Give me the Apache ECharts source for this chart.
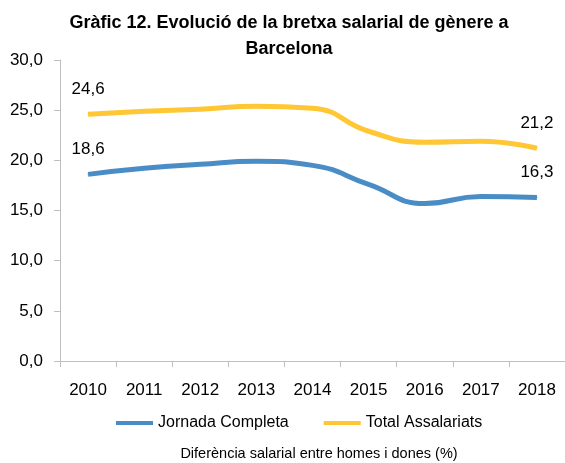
<!DOCTYPE html>
<html>
<head>
<meta charset="utf-8">
<script src="https://cdn.jsdelivr.net/npm/echarts@6/dist/echarts.min.js"></script>
<style>
  html, body { margin: 0; padding: 0; background: #fff; }
  #chart { width: 565px; height: 463px; }
</style>
</head>
<body>
<div id="chart"></div>
<script>
  // anys i valors llegits del gràfic
  let years = ['2010', '2011', '2012', '2013', '2014', '2015', '2016', '2017', '2018'];
  let jornadaCompleta = [18.6, 19.2, 19.6, 19.9, 19.5, 17.6, 15.7, 16.4, 16.3];
  let totalAssalariats = [24.6, 24.9, 25.1, 25.4, 25.2, 22.9, 21.8, 21.9, 21.2];
  let yTicks = [0, 5, 10, 15, 20, 25, 30];

  let font = '"Liberation Sans Narrow", "Arial Narrow", "Liberation Sans", Arial, sans-serif';

  function fmt(v) {
    return Number(v).toFixed(1).replace('.', ',');
  }

  // etiqueta només al primer i l'últim punt (sense símbol, la línia no dibuixa etiquetes)
  function withEndLabels(values) {
    return values.map(function(v, i) {
      let ends = i === 0 || i === values.length - 1;
      if (!ends) {
        return { value: v, symbol: 'none', label: { show: false } };
      }
      return { value: v, symbol: 'circle', symbolSize: 1, label: { show: true } };
    });
  }

  let myChart = echarts.init(document.getElementById('chart'));

  let option = {
    animation: false,
    title: [{
      text: 'Gràfic 12. Evolució de la bretxa salarial de gènere a\nBarcelona',
      left: 284,
      top: 5,
      textAlign: 'center',
      textStyle: {
        fontFamily: font,
        fontSize: 18,
        fontWeight: 'bold',
        color: '#000',
        lineHeight: 26
      }
    }, {
      text: 'Diferència salarial entre homes i dones (%)',
      left: 314,
      top: 441,
      textAlign: 'center',
      textStyle: {
        fontFamily: font,
        fontSize: 14.5,
        fontWeight: 'normal',
        color: '#000'
      }
    }],
    legend: {
      left: 111,
      top: 410,
      itemGap: 35,
      itemWidth: 37,
      itemHeight: 4,
      icon: 'rect',
      textStyle: {
        fontFamily: font,
        fontSize: 16,
        color: '#000'
      },
      data: ['Jornada Completa', 'Total Assalariats']
    },
    grid: {
      left: 60,
      top: 60,
      width: 510,
      bottom: 102,
      containLabel: false
    },
    xAxis: {
      type: 'category',
      data: years,
      axisLine: { lineStyle: { color: '#BFBFBF', width: 1 } },
      axisTick: { show: true, length: 6, lineStyle: { color: '#BFBFBF' } },
      axisLabel: {
        margin: 21,
        fontFamily: font,
        fontSize: 17,
        color: '#000'
      },
      splitLine: { show: false }
    },
    yAxis: {
      type: 'value',
      min: yTicks[0],
      max: yTicks[yTicks.length - 1],
      interval: 5,
      axisLine: { show: true, lineStyle: { color: '#BFBFBF', width: 1 } },
      axisTick: { show: true, length: 6, lineStyle: { color: '#BFBFBF' } },
      axisLabel: {
        margin: 17,
        fontFamily: font,
        fontSize: 17,
        color: '#000',
        formatter: fmt
      },
      splitLine: { show: false }
    },
    series: [{
      name: 'Jornada Completa',
      type: 'line',
      smooth: 0.5,
      color: '#4A8DC6',
      lineStyle: { width: 5, color: '#4A8DC6' },
      label: {
        position: 'top',
        distance: 16,
        fontFamily: font,
        fontSize: 17,
        color: '#000',
        formatter: function(p) { return fmt(p.value); }
      },
      data: withEndLabels(jornadaCompleta)
    }, {
      name: 'Total Assalariats',
      type: 'line',
      smooth: 0.5,
      color: '#FFC734',
      lineStyle: { width: 5, color: '#FFC734' },
      label: {
        position: 'top',
        distance: 16,
        fontFamily: font,
        fontSize: 17,
        color: '#000',
        formatter: function(p) { return fmt(p.value); }
      },
      data: withEndLabels(totalAssalariats)
    }]
  };

  myChart.setOption(option);
</script>
</body>
</html>
